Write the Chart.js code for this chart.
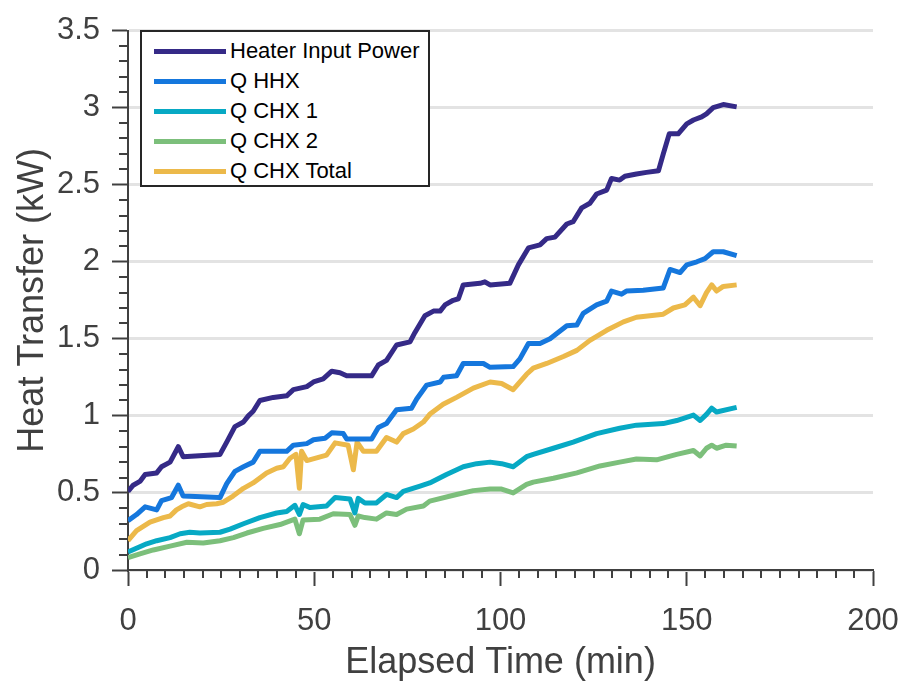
<!DOCTYPE html>
<html>
<head>
<meta charset="utf-8">
<script src="https://cdn.jsdelivr.net/npm/chart.js@4.4.1/dist/chart.umd.min.js"></script>
<style>
  html, body { margin: 0; padding: 0; background: #fff; }
  #wrap { position: relative; width: 902px; height: 686px; }
  #legend {
    position: absolute; left: 140px; top: 30px; width: 286px; height: 153px;
    border: 2px solid #262626; background: #fff; box-sizing: content-box;
    font-family: "Liberation Sans", Arial, sans-serif; font-size: 22px; color: #000;
  }
  #legend .row { position: absolute; left: 0; height: 30px; line-height: 30px; white-space: nowrap; }
  #legend .swatch { position: absolute; left: 12px; top: 13px; width: 72px; height: 5px; }
  #legend .txt { position: absolute; left: 88px; top: 0; }
</style>
</head>
<body>
<div id="wrap">
  <canvas id="line-chart" width="902" height="686"></canvas>
  <div id="legend"></div>
</div>
<script>
// [minutes, kW]
const heater = [[0,0.51],[1.4,0.55],[3.2,0.575],[4.6,0.62],[7.7,0.63],[9,0.67],[11.3,0.70],[13.5,0.80],[14.8,0.735],
  [24.7,0.75],[26.5,0.83],[28.7,0.93],[31,0.96],[32.3,1.0],[33.6,1.03],[35.4,1.10],[39,1.12],[42.6,1.13],[44.4,1.17],
  [48,1.19],[49.8,1.22],[52.4,1.24],[54.7,1.29],[56.9,1.28],[58.7,1.26],[65.4,1.26],[67.2,1.33],[69.4,1.36],[72.1,1.46],
  [75.7,1.48],[77,1.54],[79.7,1.65],[82,1.68],[83.8,1.68],[85.1,1.72],[87.3,1.75],[88.7,1.76],[90,1.85],[94.5,1.86],
  [95.8,1.87],[97.2,1.85],[102.5,1.86],[104.8,1.98],[107.5,2.09],[110.6,2.11],[112.4,2.15],[114.6,2.16],[117.8,2.245],
  [119.5,2.26],[121.8,2.35],[124,2.38],[125.8,2.44],[128.5,2.465],[129.8,2.54],[132,2.53],[133.4,2.555],[136.5,2.57],
  [139.2,2.58],[142.4,2.59],[143.7,2.70],[145.3,2.83],[147.7,2.83],[150,2.895],[151.8,2.92],[154,2.94],[155.3,2.96],
  [157.1,3.0],[159.8,3.02],[163.4,3.005]];

const qHHX = [[0,0.32],[2.3,0.36],[4.6,0.41],[7.7,0.39],[9,0.45],[11.7,0.47],[13.5,0.55],[14.8,0.48],[24.7,0.47],
  [26.5,0.56],[28.7,0.64],[31,0.67],[33.6,0.70],[35.4,0.77],[42.6,0.77],[44.4,0.81],[48,0.82],[49.8,0.845],[52.9,0.855],
  [54.7,0.89],[57.8,0.885],[58.7,0.85],[65.4,0.85],[67.2,0.925],[69.4,0.95],[72.1,1.04],[76.1,1.05],[77.5,1.11],
  [80.2,1.20],[83.8,1.22],[84.7,1.25],[88.2,1.26],[90,1.34],[95.4,1.34],[97.2,1.315],[103.4,1.32],[105.2,1.37],
  [107.5,1.47],[110.6,1.47],[113.3,1.50],[117.8,1.585],[120.5,1.59],[122.2,1.665],[125.8,1.72],[128.5,1.745],
  [129.8,1.81],[132.5,1.79],[133.8,1.81],[138.3,1.815],[143.7,1.83],[145.5,1.95],[148.2,1.93],[150,1.98],[152.7,2.0],
  [154.9,2.02],[157.1,2.065],[159.8,2.065],[163.4,2.04]];

const qCHX1 = [[0,0.117],[5,0.17],[7.7,0.19],[11.3,0.21],[14,0.235],[16.6,0.245],[19.3,0.24],[24.7,0.245],[27.4,0.265],
  [31,0.30],[35.4,0.34],[39.9,0.37],[42.6,0.38],[44.8,0.42],[46,0.36],[47,0.425],[48.9,0.405],[53.3,0.415],[55.6,0.47],
  [59.6,0.46],[60.9,0.37],[61.8,0.465],[63.6,0.435],[66.7,0.435],[69.4,0.49],[72.1,0.47],[73.9,0.51],[78.4,0.545],
  [81,0.565],[85.5,0.62],[90,0.67],[93.6,0.69],[97.2,0.70],[100.3,0.69],[103.4,0.67],[107,0.735],[108.8,0.75],
  [114.2,0.79],[119.5,0.83],[125.8,0.885],[132,0.92],[136.5,0.94],[143.7,0.95],[147.3,0.97],[151.8,1.005],[153.6,0.97],
  [155.3,1.01],[156.7,1.05],[158,1.025],[163.4,1.055]];

const qCHX2 = [[0,0.08],[3.2,0.105],[6.8,0.13],[11.3,0.155],[15.8,0.18],[20.2,0.175],[24.7,0.19],[28.3,0.21],[31.9,0.24],
  [36.3,0.27],[40.8,0.295],[44.8,0.33],[46,0.235],[47,0.325],[51.5,0.33],[55.1,0.365],[59.6,0.36],[60.9,0.29],[61.8,0.35],
  [63.6,0.34],[66.7,0.33],[69.4,0.37],[72.1,0.36],[74.8,0.395],[79.3,0.415],[81,0.447],[88.2,0.49],[92.7,0.515],
  [97.2,0.525],[100.3,0.525],[103.4,0.50],[107,0.555],[108.8,0.57],[114.2,0.595],[120.5,0.63],[126.7,0.675],[132,0.70],
  [136.5,0.72],[141.9,0.715],[147.3,0.75],[151.8,0.775],[153.6,0.74],[155.3,0.79],[156.7,0.81],[158,0.79],[160.6,0.81],
  [163.4,0.805]];

const qCHXTotal = [[0,0.19],[2.3,0.255],[5.9,0.31],[7.7,0.325],[9.5,0.34],[11.3,0.35],[13,0.39],[14.4,0.41],[16.2,0.43],
  [19.3,0.41],[21.1,0.425],[23.8,0.43],[25.6,0.44],[28.2,0.48],[31,0.53],[33.6,0.565],[37.2,0.63],[39.9,0.66],[41.7,0.67],
  [43.5,0.725],[45.1,0.75],[46,0.53],[46.6,0.77],[48,0.71],[53.3,0.745],[55.6,0.825],[59.1,0.81],[60.5,0.65],[61.5,0.83],
  [63.2,0.77],[66.7,0.77],[69.4,0.86],[72.1,0.83],[73.9,0.885],[76.6,0.915],[79.3,0.96],[81,1.01],[84.6,1.075],
  [88.2,1.12],[92.7,1.18],[97.2,1.22],[100.3,1.21],[103.4,1.17],[107,1.27],[108.8,1.31],[112.4,1.34],[116.9,1.385],
  [120.5,1.425],[124,1.49],[128.5,1.555],[133,1.61],[136.5,1.64],[143.7,1.66],[146.4,1.70],[149.5,1.72],[151.8,1.77],
  [153.6,1.715],[155.3,1.80],[156.7,1.85],[158,1.81],[159.8,1.84],[163.4,1.85]];

const seriesNames = ["Heater Input Power", "Q HHX", "Q CHX 1", "Q CHX 2", "Q CHX Total"];
const seriesData = [heater, qHHX, qCHX1, qCHX2, qCHXTotal];
const colors = ["#352a87", "#1577dd", "#07a9c4", "#7cbf7b", "#ecb94a"];

const fontFam = '"Liberation Sans", Arial, sans-serif';
const axisCol = "#404040";

// minor ticks, MATLAB style
const minorTicks = {
  id: 'minorTicks',
  afterDraw(chart) {
    const ctx = chart.ctx, x = chart.scales.x, y = chart.scales.y;
    const area = chart.chartArea;
    ctx.save();
    ctx.strokeStyle = axisCol;
    ctx.lineWidth = 2;
    ctx.beginPath();
    for (let v = 0; v <= 200; v += 5) {
      if (v % 50 === 0) continue;
      const px = Math.round(x.getPixelForValue(v));
      ctx.moveTo(px, area.bottom);
      ctx.lineTo(px, area.bottom + 8);
    }
    for (let i = 0; i <= 35; i++) {
      if (i % 5 === 0) continue;
      const py = Math.round(y.getPixelForValue(i / 10));
      ctx.moveTo(area.left, py);
      ctx.lineTo(area.left - 9, py);
    }
    ctx.stroke();
    ctx.restore();
  }
};

new Chart(document.getElementById("line-chart"), {
  type: 'line',
  data: {
    datasets: seriesData.map((d, i) => ({
      label: seriesNames[i],
      data: d.map(p => ({ x: p[0], y: p[1] })),
      borderColor: colors[i],
      borderWidth: 5,
      borderJoinStyle: 'round',
      pointRadius: 0,
      tension: 0,
      fill: false
    }))
  },
  options: {
    responsive: false,
    animation: false,
    devicePixelRatio: 1,
    layout: { padding: { left: 0, top: 22, right: 29, bottom: 0 } },
    plugins: { legend: { display: false }, tooltip: { enabled: false } },
    scales: {
      x: {
        type: 'linear', min: 0, max: 200,
        afterFit(s) { s.height = 116; s.paddingRight = 24; },
        ticks: { stepSize: 50, color: axisCol, padding: 17, maxRotation: 0,
                 font: { family: fontFam, size: 31 } },
        grid: { drawOnChartArea: false, drawTicks: true, tickLength: 16, tickColor: axisCol, tickWidth: 2 },
        border: { display: true, color: axisCol, width: 2 },
        title: { display: true, text: 'Elapsed Time (min)', color: axisCol,
                 font: { family: fontFam, size: 36 }, padding: { top: 0, bottom: 1 } }
      },
      y: {
        type: 'linear', min: 0, max: 3.5,
        afterFit(s) { s.width = 128; },
        ticks: { stepSize: 0.5, color: axisCol, padding: 12,
                 font: { family: fontFam, size: 31 },
                 callback: v => String(Math.round(v * 10) / 10) },
        grid: { color: '#e3e3e3', lineWidth: 3, drawTicks: true, tickLength: 16, tickColor: axisCol, tickWidth: 2 },
        border: { display: true, color: axisCol, width: 2 },
        title: { display: true, text: 'Heat Transfer (kW)', color: axisCol,
                 font: { family: fontFam, size: 36 }, padding: { top: 11, bottom: 0 } }
      }
    }
  },
  plugins: [minorTicks]
});

// legend box drawn as html, built from the same arrays
const leg = document.getElementById('legend');
seriesNames.forEach((name, i) => {
  const row = document.createElement('div');
  row.className = 'row';
  row.style.top = (4 + i * 30) + 'px';
  row.innerHTML = '<span class="swatch" style="background:' + colors[i] + '"></span><span class="txt">' + name + '</span>';
  leg.appendChild(row);
});
</script>
</body>
</html>
